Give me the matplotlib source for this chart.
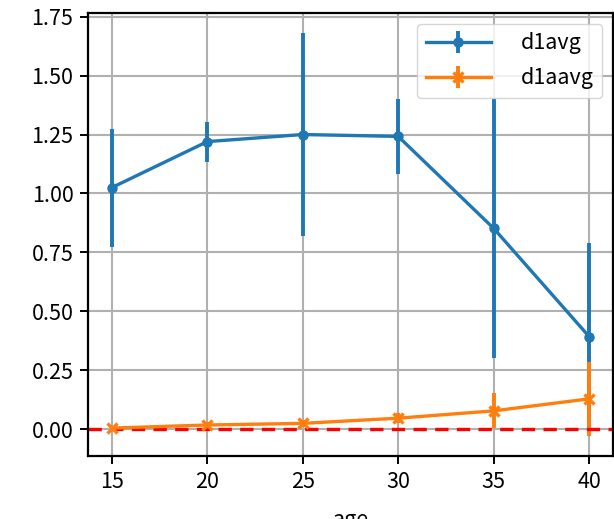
import matplotlib

matplotlib.use("Agg")
import matplotlib.pyplot as plt

plt.rcParams["font.family"] = ["Noto Sans CJK JP", "DejaVu Sans"]

age = [15, 20, 25, 30, 35, 40]
d1avg = [1.025, 1.22, 1.25, 1.242, 0.852, 0.393]
d1avg_err = [0.25, 0.085, 0.43, 0.16, 0.55, 0.395]
d1aavg = [0.005, 0.018, 0.025, 0.047, 0.078, 0.129]
d1aavg_err = [0.005, 0.012, 0.015, 0.022, 0.074, 0.157]

fig = plt.figure(figsize=(6.14, 5.19), dpi=100)
ax = fig.add_axes([88 / 614, 63 / 519, 525 / 614, 443 / 519])

ax.errorbar(age, d1avg, yerr=d1avg_err, marker="o", markersize=6.5,
            linewidth=2.4, elinewidth=2.8, color="#1f77b4", label="d1avg")
ax.errorbar(age, d1aavg, yerr=d1aavg_err, marker="x", markersize=6.5,
            markeredgewidth=2.4, linewidth=2.4, elinewidth=2.8,
            color="#ff7f0e", label="d1aavg")
ax.axhline(0, color="red", linestyle="--", linewidth=2.4, dashes=(4, 2.5))

ax.grid(True, color="#b0b0b0", linewidth=1.5)
ax.set_xticks(age)
ax.set_yticks([0, 0.25, 0.5, 0.75, 1.0, 1.25, 1.5, 1.75])
ax.tick_params(labelsize=15.5, width=1.4, length=5.5, pad=5)
for s in ax.spines.values():
    s.set_linewidth(1.6)
# the reference crop cuts the x label at the bottom edge
ax.set_xlabel("age", fontsize=15.5, labelpad=12)
ax.legend(loc="upper right", fontsize=15.5, handletextpad=1.4, handlelength=3.0,
          labelspacing=0.6, borderaxespad=0.5)

fig.savefig("out.png", dpi=100)
